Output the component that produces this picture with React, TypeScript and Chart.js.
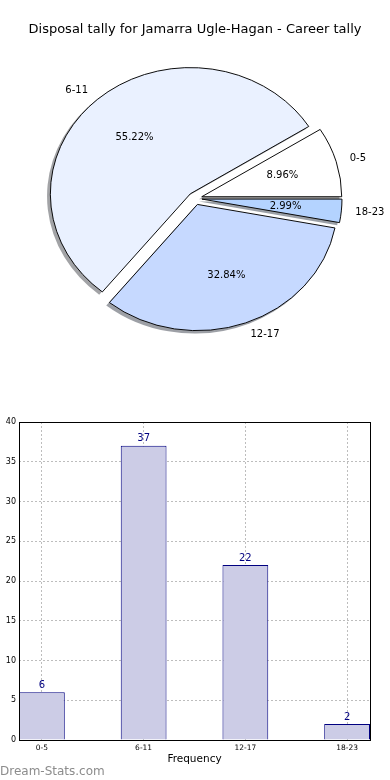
import React, { useEffect, useRef } from "react";
import { Chart, registerables } from "chart.js";

Chart.register(...registerables);

const TITLE = "Disposal tally for Jamarra Ugle-Hagan - Career tally";
const CATEGORIES = ["0-5", "6-11", "12-17", "18-23"];
const VALUES = [6, 37, 22, 2];
const PIE_COLORS = ["#ffffff", "#eaf1ff", "#c6d9ff", "#b4d3ff"];
const Y_TICK_MAX = 40;
const Y_TICK_STEP = 5;
const X_AXIS_TITLE = "Frequency";
const WATERMARK = "Dream-Stats.com";

const FONT = "'DejaVu Sans', sans-serif";
const EXPLODE = 0.05;
const Y_SCALE = 126.2 / 140;
const BAR_FILL = "#ccccE6";
const BAR_EDGE = "#000080";

const total = VALUES.reduce((a, b) => a + b, 0);
// Chart.js draws clockwise; reverse so that the order matches a counter-clockwise pie
const PIE_LABELS = [...CATEGORIES].reverse();
const PIE_VALUES = [...VALUES].reverse();
const PIE_FILLS = [...PIE_COLORS].reverse();

function shadowOf(hex: string) {
  const n = parseInt(hex.slice(1), 16);
  const r = Math.round(((n >> 16) & 255) * 0.3);
  const g = Math.round(((n >> 8) & 255) * 0.3);
  const b = Math.round((n & 255) * 0.3);
  return `rgba(${r},${g},${b},0.5)`;
}

const pieDecor = {
  id: "pieDecor",
  afterUpdate(chart: any) {
    const meta = chart.getDatasetMeta(0);
    meta.data.forEach((el: any) => {
      const mid = (el.startAngle + el.endAngle) / 2;
      const d = EXPLODE * el.outerRadius;
      el.x += Math.cos(mid) * d;
      el.y += Math.sin(mid) * d;
    });
  },
  beforeDatasetsDraw(chart: any) {
    const { ctx, chartArea: a } = chart;
    const cx = (a.left + a.right) / 2;
    const cy = (a.top + a.bottom) / 2;
    const meta = chart.getDatasetMeta(0);
    // shadows
    meta.data.forEach((el: any, i: number) => {
      ctx.save();
      ctx.translate(-2.8, 2.5);
      ctx.translate(cx, cy);
      ctx.scale(1, Y_SCALE);
      ctx.translate(-cx, -cy);
      ctx.beginPath();
      ctx.moveTo(el.x, el.y);
      ctx.arc(el.x, el.y, el.outerRadius + 0.5, el.startAngle, el.endAngle);
      ctx.closePath();
      ctx.fillStyle = shadowOf(PIE_FILLS[i]);
      ctx.fill();
      ctx.restore();
    });
    ctx.save();
    ctx.translate(cx, cy);
    ctx.scale(1, Y_SCALE);
    ctx.translate(-cx, -cy);
  },
  afterDatasetsDraw(chart: any) {
    const { ctx, chartArea: a } = chart;
    ctx.restore();
    const cy = (a.top + a.bottom) / 2;
    const meta = chart.getDatasetMeta(0);
    ctx.save();
    ctx.fillStyle = "#000";
    ctx.font = `10px ${FONT}`;
    ctx.textBaseline = "middle";
    meta.data.forEach((el: any, i: number) => {
      const mid = (el.startAngle + el.endAngle) / 2;
      const c = Math.cos(mid);
      const s = Math.sin(mid);
      const R = el.outerRadius;
      const map = (px: number, py: number) => [px, cy + (py - cy) * Y_SCALE];
      const [px, py] = map(el.x + c * R * 0.6, el.y + s * R * 0.6);
      ctx.textAlign = "center";
      ctx.fillText(((PIE_VALUES[i] / total) * 100).toFixed(2) + "%", px, py);
      const [lx, ly] = map(el.x + c * R * 1.1, el.y + s * R * 1.1);
      ctx.textAlign = c >= 0 ? "left" : "right";
      ctx.fillText(PIE_LABELS[i], lx, ly);
    });
    ctx.restore();
  },
};

const barDecor = {
  id: "barDecor",
  afterDatasetsDraw(chart: any) {
    const { ctx } = chart;
    const meta = chart.getDatasetMeta(0);
    ctx.save();
    ctx.fillStyle = BAR_EDGE;
    ctx.font = `10px ${FONT}`;
    ctx.textAlign = "center";
    ctx.textBaseline = "bottom";
    meta.data.forEach((bar: any, i: number) => {
      ctx.fillText(String(VALUES[i]), bar.x, bar.y - 2);
    });
    ctx.restore();
  },
  afterDraw(chart: any) {
    const { ctx, chartArea: a } = chart;
    ctx.save();
    ctx.strokeStyle = "#000";
    ctx.lineWidth = 1;
    ctx.setLineDash([]);
    ctx.strokeRect(
      Math.round(a.left) + 0.5,
      Math.round(a.top) + 0.5,
      Math.round(a.right) - Math.round(a.left),
      Math.round(a.bottom) - Math.round(a.top)
    );
    ctx.restore();
  },
};

export default function App() {
  const pieRef = useRef<HTMLCanvasElement | null>(null);
  const barRef = useRef<HTMLCanvasElement | null>(null);

  useEffect(() => {
    const pie = new Chart(pieRef.current as HTMLCanvasElement, {
      type: "pie",
      data: {
        labels: PIE_LABELS,
        datasets: [
          {
            data: PIE_VALUES,
            backgroundColor: PIE_FILLS,
            borderColor: "#000",
            borderWidth: 1,
            offset: 0,
            hoverOffset: 0,
            clip: false,
          } as any,
        ],
      },
      options: {
        animation: false,
        responsive: true,
        maintainAspectRatio: false,
        rotation: 90,
        layout: { padding: { left: 0, right: 0, top: 0, bottom: 31 } },
        plugins: {
          legend: { display: false },
          tooltip: { enabled: false },
          title: {
            display: true,
            text: TITLE,
            color: "#000",
            font: { family: FONT, size: 13, weight: "normal" },
            padding: { top: 22, bottom: 20.4 },
          },
        },
      } as any,
      plugins: [pieDecor],
    });

    const bar = new Chart(barRef.current as HTMLCanvasElement, {
      type: "bar",
      data: {
        datasets: [
          {
            data: VALUES.map((v, i) => ({ x: i, y: v })),
            backgroundColor: BAR_FILL,
            borderColor: BAR_EDGE,
            borderWidth: 1,
            barPercentage: 0.45,
            categoryPercentage: 1,
          } as any,
        ],
      },
      options: {
        animation: false,
        responsive: true,
        maintainAspectRatio: false,
        layout: { padding: { left: 0, right: 20, top: 42, bottom: 0 } },
        plugins: { legend: { display: false }, tooltip: { enabled: false } },
        scales: {
          x: {
            type: "linear",
            offset: false,
            min: -0.225,
            max: 3.225,
            ticks: {
              stepSize: 1,
              includeBounds: false,
              autoSkip: false,
              maxRotation: 0,
              padding: 4,
              color: "#000",
              font: { family: FONT, size: 7.5 },
              callback: (v: any) => CATEGORIES[v] ?? "",
            },
            grid: { color: "#bdbdbd", drawTicks: false, lineWidth: 1, offset: false },
            border: { display: false, dash: [2, 2] },
            title: {
              display: true,
              text: X_AXIS_TITLE,
              color: "#000",
              font: { family: FONT, size: 10.5 },
              padding: { top: 0, bottom: 14 },
            },
            afterFit: (s: any) => {
              s.height = 40;
            },
          },
          y: {
            min: 0,
            max: Y_TICK_MAX,
            ticks: {
              stepSize: Y_TICK_STEP,
              padding: 3,
              color: "#000",
              font: { family: FONT, size: 8 },
            },
            grid: { color: "#bdbdbd", drawTicks: false, lineWidth: 1 },
            border: { display: false, dash: [2, 2] },
            afterFit: (s: any) => {
              s.width = 19;
            },
          },
        },
      } as any,
      plugins: [barDecor],
    });

    return () => {
      pie.destroy();
      bar.destroy();
    };
  }, []);

  return (
    <div
      style={{
        position: "absolute",
        left: 0,
        top: 0,
        width: 390,
        height: 780,
        background: "#fff",
        overflow: "hidden",
      }}
    >
      <div style={{ position: "absolute", left: 0, top: 0, width: 390, height: 370 }}>
        <canvas ref={pieRef} />
      </div>
      <div style={{ position: "absolute", left: 0, top: 380, width: 390, height: 400 }}>
        <canvas ref={barRef} />
      </div>
      <div
        style={{
          position: "absolute",
          left: 0,
          top: 764,
          fontFamily: FONT,
          fontSize: 12,
          lineHeight: "14px",
          color: "#8c8c8c",
          whiteSpace: "nowrap",
        }}
      >
        {WATERMARK}
      </div>
    </div>
  );
}
